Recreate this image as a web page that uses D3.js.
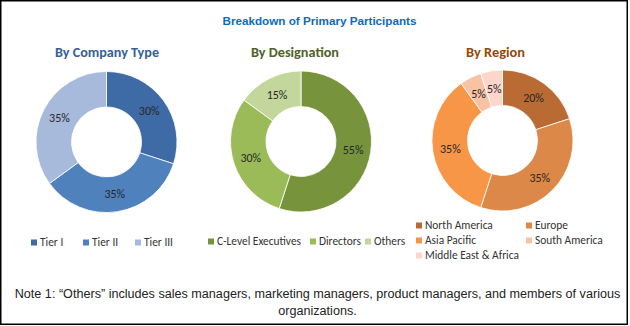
<!DOCTYPE html>
<html>
<head>
<meta charset="utf-8">
<script src="https://cdn.jsdelivr.net/npm/d3@7"></script>
<style>
  html, body { margin: 0; padding: 0; background: #fff; }
  svg { display: block; }
</style>
</head>
<body>
<svg id="chart" width="630" height="326"></svg>
<script>
// Survey breakdown data
const companyTypes = ["Tier I", "Tier II", "Tier III"];
const companyShares = [30, 35, 35];

const designations = ["C-Level Executives", "Directors", "Others"];
const designationShares = [55, 30, 15];

const regions = ["North America", "Europe", "Asia Pacific", "South America", "Middle East & Africa"];
const regionShares = [20, 35, 35, 5, 5];

const companyColors = ["#3e6aa5", "#4f81bd", "#a8badb"];
const designationColors = ["#77933c", "#9bbb59", "#c3d69b"];
const regionColors = ["#b96b33", "#dc8848", "#f79646", "#f9c2a4", "#fcd6cb"];

const bodyFont = "Carlito, Lato, 'Open Sans', sans-serif";
const narrowFont = "'Liberation Sans Narrow', 'Arial Narrow', 'Liberation Sans', sans-serif";

const svg = d3.select("#chart");

// outer frame
svg.append("rect")
  .attr("x", 0.75).attr("y", 0.75)
  .attr("width", 626.5).attr("height", 323.5)
  .attr("fill", "#fff").attr("stroke", "#000").attr("stroke-width", 1.5);

// main title
svg.append("text")
  .attr("x", 319.5).attr("y", 25)
  .attr("text-anchor", "middle")
  .attr("font-family", narrowFont)
  .attr("font-weight", "bold")
  .attr("font-size", 11.5)
  .attr("fill", "#0b6cc0")
  .attr("textLength", 194).attr("lengthAdjust", "spacingAndGlyphs")
  .text("Breakdown of Primary Participants");

const panels = [
  { title: "By Company Type", titleX: 107, titleW: 104, titleColor: "#365f98",
    labels: companyTypes, values: companyShares, colors: companyColors,
    cx: 106.5, cy: 142 },
  { title: "By Designation", titleX: 295, titleW: 88, titleColor: "#4f6228",
    labels: designations, values: designationShares, colors: designationColors,
    cx: 301, cy: 141.5 },
  { title: "By Region", titleX: 495.5, titleW: 59, titleColor: "#974806",
    labels: regions, values: regionShares, colors: regionColors,
    cx: 502.5, cy: 140.5 }
];

const outerR = 70.5, innerR = 35;
const arc = d3.arc().innerRadius(innerR).outerRadius(outerR);
const labelArc = d3.arc().innerRadius((innerR + outerR) / 2).outerRadius((innerR + outerR) / 2);
const pie = d3.pie().sort(null).value(d => d.value);

panels.forEach(p => {
  svg.append("text")
    .attr("x", p.titleX).attr("y", 57)
    .attr("text-anchor", "middle")
    .attr("font-family", bodyFont)
    .attr("font-weight", "bold")
    .attr("font-size", 14)
    .attr("fill", p.titleColor)
    .attr("textLength", p.titleW).attr("lengthAdjust", "spacingAndGlyphs")
    .text(p.title);

  const color = d3.scaleOrdinal().domain(p.labels).range(p.colors);
  const data = p.labels.map((l, i) => ({ label: l, value: p.values[i] }));
  const arcs = pie(data);

  const g = svg.append("g").attr("transform", `translate(${p.cx},${p.cy})`);
  g.selectAll("path.slice")
    .data(arcs)
    .join("path")
    .attr("class", "slice")
    .attr("d", arc)
    .attr("fill", d => color(d.data.label))
    .attr("stroke", "#fff")
    .attr("stroke-width", 0.8);

  g.selectAll("text.pct")
    .data(arcs)
    .join("text")
    .attr("class", "pct")
    .attr("transform", d => `translate(${labelArc.centroid(d)})`)
    .attr("text-anchor", "middle")
    .attr("dy", "0.35em")
    .attr("font-family", bodyFont)
    .attr("font-size", 12)
    .attr("fill", "#262626")
    .text(d => d.data.value + "%");

  p.color = color;
});

// legends
function legendItem(x, y, label, fill) {
  svg.append("rect")
    .attr("x", x).attr("y", y - 3)
    .attr("width", 6).attr("height", 6)
    .attr("fill", fill);
  svg.append("text")
    .attr("x", x + 9).attr("y", y)
    .attr("dy", "0.35em")
    .attr("font-family", bodyFont)
    .attr("font-size", 11.4)
    .attr("fill", "#333")
    .text(label);
}

const companyLegendX = [31, 83, 135];
companyTypes.forEach((l, i) => legendItem(companyLegendX[i], 242.5, l, panels[0].color(l)));

const designationLegendX = [208, 310, 365];
designations.forEach((l, i) => legendItem(designationLegendX[i], 241.5, l, panels[1].color(l)));

const regionLegendPos = [[416, 225.5], [526, 225.5], [416, 240.5], [526, 240.5], [416, 255.5]];
regions.forEach((l, i) => legendItem(regionLegendPos[i][0], regionLegendPos[i][1], l, panels[2].color(l)));

// footnote: font size chosen so the first line spans the available width
const noteLines = [
  "Note 1: \u201cOthers\u201d includes sales managers, marketing managers, product managers, and members of various",
  "organizations."
];
const noteWidth = 606;
const note1 = svg.append("text")
  .attr("x", 317.5).attr("y", 297.5)
  .attr("text-anchor", "middle")
  .attr("font-family", narrowFont)
  .attr("font-size", 13)
  .attr("fill", "#222")
  .text(noteLines[0]);
const natural = note1.node().getComputedTextLength();
const noteSize = Math.min(13, 13 * noteWidth / natural);
note1.attr("font-size", noteSize);
svg.append("text")
  .attr("x", 317.5).attr("y", 314.5)
  .attr("text-anchor", "middle")
  .attr("font-family", narrowFont)
  .attr("font-size", noteSize)
  .attr("fill", "#222")
  .text(noteLines[1]);
</script>
</body>
</html>
